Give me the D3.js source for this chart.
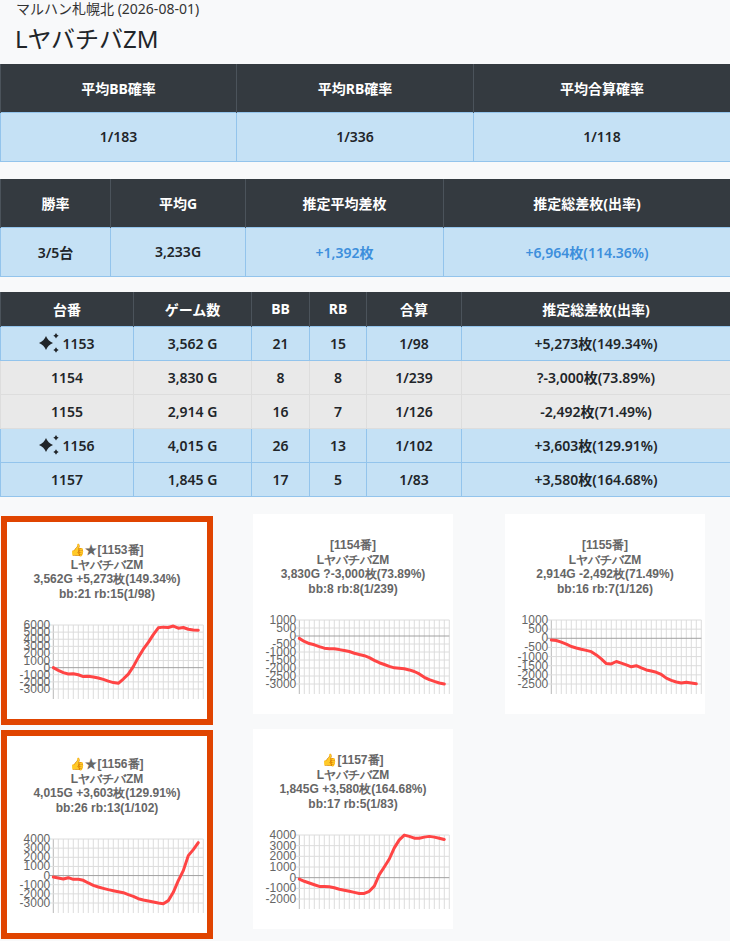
<!DOCTYPE html>
<html lang="ja">
<head>
<meta charset="UTF-8">
<title>LヤバチバZM</title>
<style>
  body { margin: 0; background: #f8f9fa; width: 730px; height: 941px; position: relative; overflow: hidden;
         font-family: "Noto Sans", "Noto Sans CJK JP", sans-serif; color: #212529; }
  .store { position: absolute; left: 16px; top: 0; font-size: 14px; line-height: 17px; color: #333; }
  .model { position: absolute; left: 15px; top: 22px; font-size: 24px; line-height: 34px; }
  table { position: absolute; left: 0; width: 730px; border-collapse: collapse; table-layout: fixed; }
  th { background: #343a40; color: #fff; font-weight: 700; font-size: 14px; padding: 0;
       border-left: 1px solid #4b535b; border-right: 1px solid #4b535b; }
  td { font-weight: 600; font-size: 14px; padding: 0; text-align: center; }
  tr.blue td { background: #c5e1f5; border: 1px solid #93c4ec; }
  tr.gray td { background: #e9e9e9; border: 1px solid #dddddd; }
  td.plus { color: #3d8fdc; }
  svg.cards { position: absolute; left: 0; top: 0; }
  .card text.ttl { font-family: "Liberation Sans", Arial, sans-serif; font-weight: bold; font-size: 12px; fill: #666; }
  .card text.tick { font-family: "Liberation Sans", Arial, sans-serif; font-size: 12px; fill: #666; }
</style>
<script src="https://cdn.jsdelivr.net/npm/d3@7"></script>
</head>
<body>
<div class="store"></div>
<div class="model"></div>
<script>
  // header texts
  var storeName = "マルハン札幌北 (2026-08-01)";
  var modelName = "LヤバチバZM";

  var avgHeaders = ["平均BB確率", "平均RB確率", "平均合算確率"];
  var avgValues = ["1/183", "1/336", "1/118"];

  var sumHeaders = ["勝率", "平均G", "推定平均差枚", "推定総差枚(出率)"];
  var sumValues = ["3/5台", "3,233G", "+1,392枚", "+6,964枚(114.36%)"];

  var listHeaders = ["台番", "ゲーム数", "BB", "RB", "合算", "推定総差枚(出率)"];
  var machineNos = ["1153", "1154", "1155", "1156", "1157"];
  var gameCounts = [3562, 3830, 2914, 4015, 1845];
  var bbCounts = [21, 8, 16, 26, 17];
  var rbCounts = [15, 8, 7, 13, 5];
  var combinedOdds = ["1/98", "1/239", "1/126", "1/102", "1/83"];
  var diffLabels = ["+5,273枚(149.34%)", "?-3,000枚(73.89%)", "-2,492枚(71.49%)", "+3,603枚(129.91%)", "+3,580枚(164.68%)"];
  var starMarks = [true, false, false, true, false];
  var thumbMarks = [true, false, false, true, true];
  var plusRows = [true, false, false, true, true];

  // estimated slump data (枚)
  var diff1153 = [0, -380, -700, -900, -850, -1000, -1250, -1200, -1300, -1450, -1650, -1900, -2100, -2200, -1600,
                  -900, 150, 1450, 2600, 3550, 4650, 5600, 5700, 5650, 5850, 5550, 5650, 5400, 5300, 5273];
  var diff1154 = [-150, -340, -470, -550, -660, -760, -800, -800, -850, -910, -970, -1080, -1160, -1230, -1350,
                  -1520, -1670, -1780, -1900, -1990, -2010, -2050, -2120, -2220, -2370, -2580, -2730, -2840, -2940, -3000];
  var diff1155 = [-90, -120, -210, -320, -450, -530, -600, -660, -730, -910, -1130, -1380, -1400, -1270, -1360,
                  -1450, -1560, -1500, -1620, -1730, -1790, -1860, -1980, -2180, -2300, -2390, -2450, -2410, -2450, -2492];
  var diff1156 = [-150, -260, -370, -230, -410, -410, -520, -810, -1070, -1250, -1400, -1540, -1650, -1760, -1870,
                  -2090, -2270, -2530, -2670, -2780, -2890, -3000, -3080, -2740, -1830, -550, 540, 2180, 2840, 3603];
  var diff1157 = [-140, -340, -500, -660, -820, -820, -850, -950, -1080, -1180, -1280, -1380, -1480, -1480, -1280,
                  -790, 280, 1000, 1750, 2790, 3540, 3990, 3870, 3700, 3700, 3800, 3870, 3800, 3700, 3580];

  var ticks1153 = [6000, 5000, 4000, 3000, 2000, 1000, 0, -1000, -2000, -3000];
  var ticks1154 = [1000, 500, 0, -500, -1000, -1500, -2000, -2500, -3000];
  var ticks1155 = [1000, 500, 0, -500, -1000, -1500, -2000, -2500];
  var ticks1156 = [4000, 3000, 2000, 1000, 0, -1000, -2000, -3000];
  var ticks1157 = [4000, 3000, 2000, 1000, 0, -1000, -2000];

  var slumps = [diff1153, diff1154, diff1155, diff1156, diff1157];
  var tickSets = [ticks1153, ticks1154, ticks1155, ticks1156, ticks1157];

  // layout
  var cardPos = [[7, 519], [253, 514], [505, 514], [7, 733], [253, 729]];
  var fmt = d3.format(",");

  d3.select(".store").text(storeName);
  d3.select(".model").text(modelName);

  // four-point sparkle
  function starPath(cx, cy, r) {
    var k = r * 0.28;
    return "M" + cx + "," + (cy - r) +
      "Q" + (cx + k) + "," + (cy - k) + " " + (cx + r) + "," + cy +
      "Q" + (cx + k) + "," + (cy + k) + " " + cx + "," + (cy + r) +
      "Q" + (cx - k) + "," + (cy + k) + " " + (cx - r) + "," + cy +
      "Q" + (cx - k) + "," + (cy - k) + " " + cx + "," + (cy - r) + "Z";
  }

  function makeTable(top, widths, headH, rowH, headers, rows, rowClass, cellClass) {
    var table = d3.select("body").append("table").style("top", top + "px");
    table.append("colgroup").selectAll("col").data(widths).join("col").style("width", function (d) { return d + "px" });
    table.append("thead").append("tr").style("height", headH + "px")
      .selectAll("th").data(headers).join("th").text(function (d) { return d });
    var tr = table.append("tbody").selectAll("tr").data(rows).join("tr")
      .attr("class", function (d, i) { return rowClass(i) })
      .style("height", rowH + "px");
    tr.selectAll("td").data(function (d, i) { return d.map(function (v) { return { v: v, r: i } }) })
      .join("td")
      .attr("class", function (d, j) { return cellClass(d.r, j) })
      .each(function (d, j) {
        var td = d3.select(this);
        if (j === 0 && typeof d.v === "object") {
          var icon = td.append("svg").attr("width", 22).attr("height", 20)
            .style("vertical-align", "-4px").style("margin-right", "1px");
          icon.append("path").attr("d", starPath(7, 10, 7)).attr("fill", "#212529");
          icon.append("path").attr("d", starPath(17, 2.8, 2.7)).attr("fill", "#212529");
          icon.append("path").attr("d", starPath(17, 17, 2.7)).attr("fill", "#212529");
          td.append("span").text(d.v.no);
        } else {
          td.text(d.v);
        }
      });
  }

  makeTable(64, [236, 237, 257], 48, 49, avgHeaders, [avgValues],
    function () { return "blue" }, function () { return "" });
  makeTable(179, [110, 135, 198, 287], 48, 49, sumHeaders, [sumValues],
    function () { return "blue" }, function (r, j) { return j >= 2 ? "plus" : "" });

  var listRows = machineNos.map(function (no, i) {
    return [starMarks[i] ? { no: no } : no, fmt(gameCounts[i]) + " G", bbCounts[i], rbCounts[i], combinedOdds[i], diffLabels[i]];
  });
  makeTable(292, [133, 118, 58, 57, 95, 269], 34, 34, listHeaders, listRows,
    function (i) { return plusRows[i] ? "blue" : "gray" }, function () { return "" });

  // small slump charts
  var svg = d3.select("body").append("svg").attr("class", "cards").attr("width", 730).attr("height", 941);

  var plotL = 46.3, plotT = 106, plotB = 170, step = 5;

  machineNos.forEach(function (no, i) {
    var g = svg.append("g").attr("class", "card")
      .attr("transform", "translate(" + cardPos[i][0] + "," + cardPos[i][1] + ")");

    if (starMarks[i]) {
      g.append("rect").attr("x", -3).attr("y", 0).attr("width", 206).attr("height", 203)
        .attr("fill", "#fff").attr("stroke", "#e04400").attr("stroke-width", 6);
    } else {
      g.append("rect").attr("width", 200).attr("height", 200).attr("fill", "#fff");
    }

    var lines = [
      (thumbMarks[i] ? "👍" : "") + (starMarks[i] ? "★" : "") + "[" + no + "番]",
      modelName,
      fmt(gameCounts[i]) + "G " + diffLabels[i],
      "bb:" + bbCounts[i] + " rb:" + rbCounts[i] + "(" + combinedOdds[i] + ")"
    ];
    g.selectAll("text.ttl").data(lines).join("text").attr("class", "ttl")
      .attr("x", 100).attr("y", function (d, k) { return 31 + k * 14.5 })
      .attr("text-anchor", "middle").attr("dominant-baseline", "central")
      .text(function (d) { return d });

    var data = slumps[i];
    var ticks = tickSets[i];
    var x = d3.scaleLinear().domain([0, data.length]).range([plotL, plotL + data.length * step]);
    var y = d3.scaleLinear().domain(d3.extent(ticks)).range([plotB, plotT]);

    // vertical grid lines
    g.append("g").selectAll("line").data(d3.range(data.length + 1)).join("line")
      .attr("x1", function (d) { return x(d) }).attr("x2", function (d) { return x(d) })
      .attr("y1", plotT).attr("y2", plotB + 10)
      .attr("stroke", function (d) { return d === 0 ? "#b8b8b8" : "#dcdcdc" }).attr("stroke-width", 1);

    // horizontal grid lines
    g.append("g").selectAll("line").data(ticks).join("line")
      .attr("x1", plotL - 4).attr("x2", x(data.length))
      .attr("y1", function (d) { return y(d) }).attr("y2", function (d) { return y(d) })
      .attr("stroke", function (d) { return d === 0 ? "#a0a0a0" : "#dcdcdc" }).attr("stroke-width", 1);

    g.append("g").selectAll("text").data(ticks).join("text").attr("class", "tick")
      .attr("x", plotL - 3).attr("y", function (d) { return y(d) })
      .attr("text-anchor", "end").attr("dominant-baseline", "central")
      .text(function (d) { return d });

    g.append("path").datum(data)
      .attr("d", d3.line().x(function (d, k) { return x(k) }).y(function (d) { return y(d) }))
      .attr("fill", "none").attr("stroke", "#ff4444").attr("stroke-width", 3)
      .attr("stroke-linejoin", "round").attr("stroke-linecap", "round");
  });
</script>
</body>
</html>
